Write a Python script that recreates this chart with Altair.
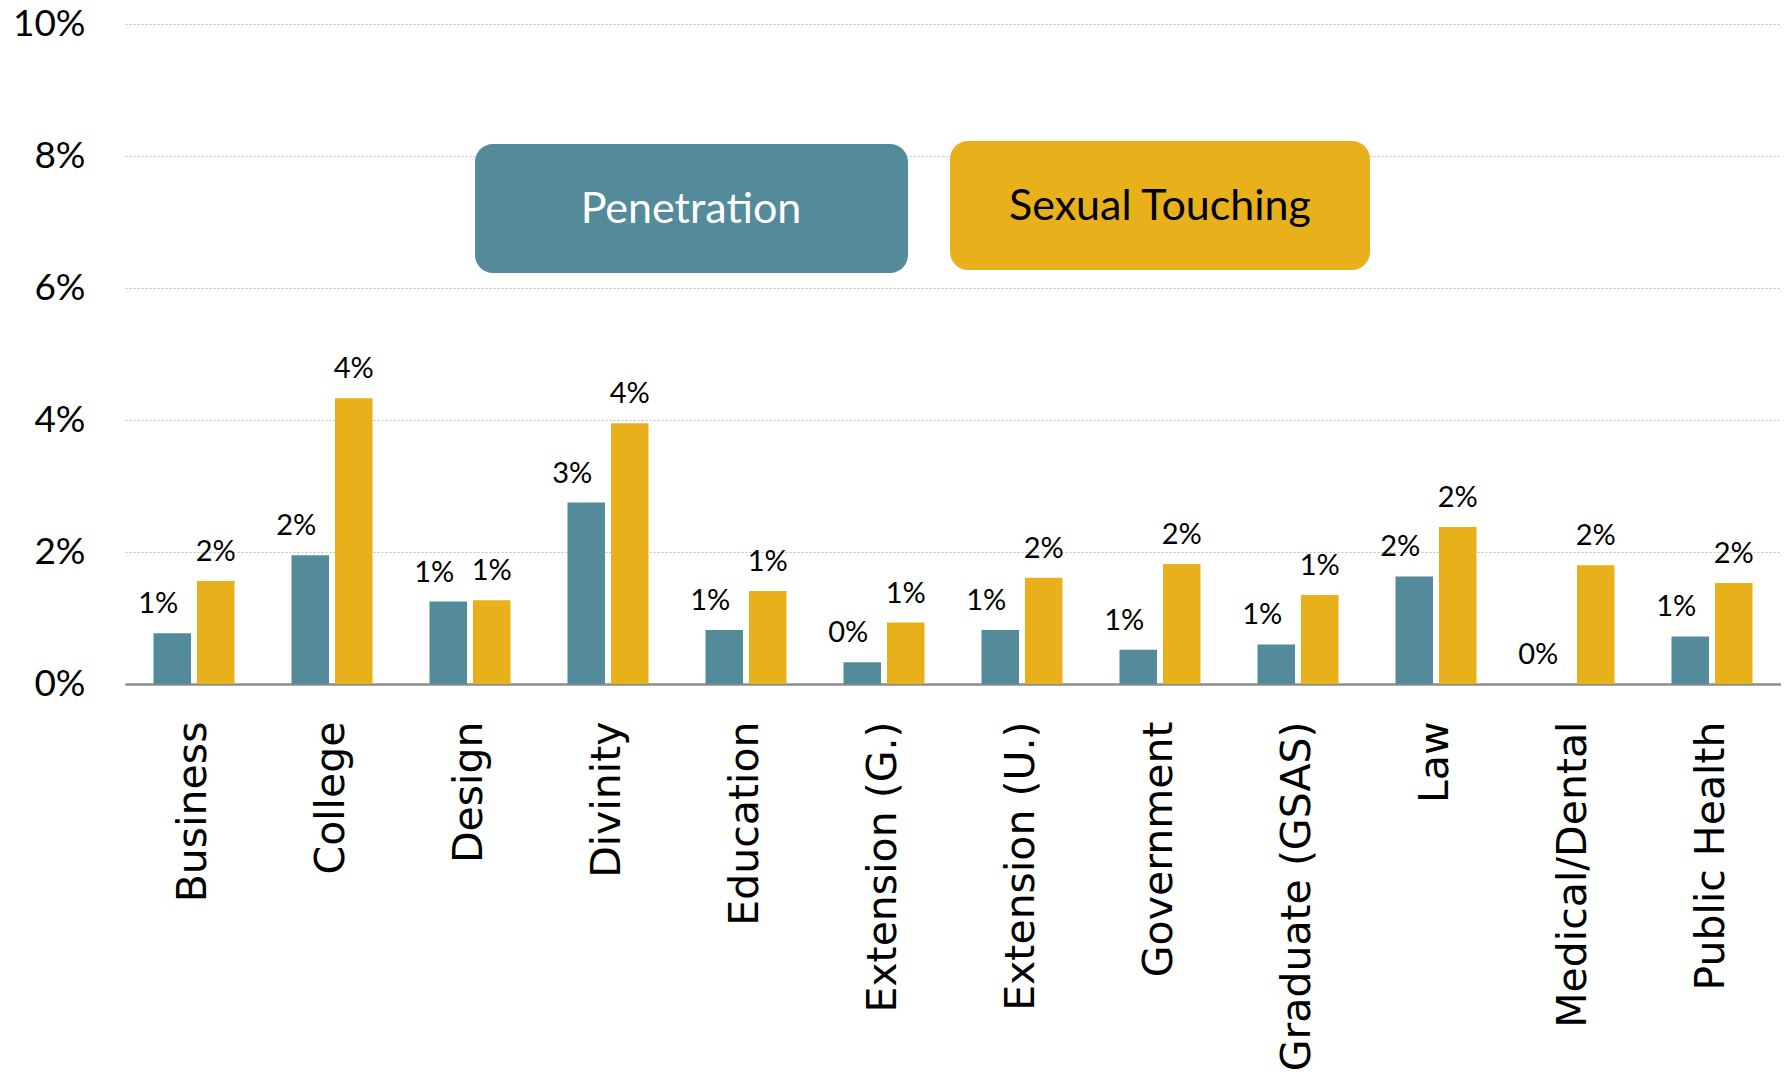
import altair as alt
import pandas as pd

schools = ["Business", "College", "Design", "Divinity", "Education", "Extension (G.)",
           "Extension (U.)", "Government", "Graduate (GSAS)", "Law", "Medical/Dental",
           "Public Health"]
series = ["Penetration", "Sexual Touching"]
colors = ["#538B9B", "#E8B01B"]
penetration = [0.0077, 0.0195, 0.0125, 0.0275, 0.0082, 0.0033, 0.0082, 0.0052, 0.0060, 0.0163, 0.0, 0.0072]
touching = [0.0156, 0.0433, 0.0127, 0.0395, 0.0141, 0.0093, 0.0161, 0.0182, 0.0135, 0.0238, 0.0180, 0.0153]
y_ticks = [0, 0.02, 0.04, 0.06, 0.08, 0.10]

rows = []
for i, s in enumerate(schools):
    rows.append({"school": s, "series": series[0], "value": penetration[i]})
    rows.append({"school": s, "series": series[1], "value": touching[i]})
df = pd.DataFrame(rows)
legend_df = pd.DataFrame({"series": series})

color_scale = alt.Scale(domain=series, range=colors)

X = alt.X("school:N", sort=schools, title=None,
          scale=alt.Scale(paddingInner=0.413, paddingOuter=0.2065),
          axis=alt.Axis(labelAngle=270, labelFont="DejaVu Sans", labelFontSize=41,
                        labelColor="black", labelPadding=37, ticks=False,
                        labelLimit=1000, domainColor="#8C8C8C", domainWidth=2.5,
                        grid=False))
XO = alt.XOffset("series:N", sort=series, scale=alt.Scale(paddingInner=0.138, paddingOuter=0))
Y = alt.Y("value:Q", title=None,
          scale=alt.Scale(domain=[0, 0.10], nice=False, zero=True),
          axis=alt.Axis(values=y_ticks, format=".0%", labelFont="Lato", labelFontSize=37,
                        labelColor="black", labelPadding=40, ticks=False, domain=False,
                        grid=True, gridColor="#BFBFBF", gridDash=[2, 2], gridWidth=1))

base = alt.Chart(df)
bars = base.mark_bar().encode(
    x=X, xOffset=XO, y=Y,
    color=alt.Color("series:N", scale=color_scale, legend=None),
)

lab_p = base.transform_filter(alt.datum.series == series[0]).mark_text(
    font="Lato", fontSize=29, color="black", baseline="alphabetic", dx=-14, dy=-20
).encode(x=X, xOffset=XO, y=Y, text=alt.Text("value:Q", format=".0%"))

lab_s = base.transform_filter(alt.datum.series == series[1]).mark_text(
    font="Lato", fontSize=29, color="black", baseline="alphabetic", dy=-20
).encode(x=X, xOffset=XO, y=Y, text=alt.Text("value:Q", format=".0%"))

leg = alt.Chart(legend_df)
box_p = leg.transform_filter(alt.datum.series == series[0]).mark_rect(cornerRadius=18).encode(
    x=alt.value(350), x2=alt.value(783), y=alt.value(120), y2=alt.value(249),
    color=alt.Color("series:N", scale=color_scale, legend=None))
box_s = leg.transform_filter(alt.datum.series == series[1]).mark_rect(cornerRadius=18).encode(
    x=alt.value(825), x2=alt.value(1245), y=alt.value(117), y2=alt.value(246),
    color=alt.Color("series:N", scale=color_scale, legend=None))
txt_p = leg.transform_filter(alt.datum.series == series[0]).mark_text(
    font="Lato", fontSize=43, color="white", baseline="middle", align="center"
).encode(x=alt.value(566), y=alt.value(186), text="series:N")
txt_s = leg.transform_filter(alt.datum.series == series[1]).mark_text(
    font="Lato", fontSize=43, color="black", baseline="middle", align="center"
).encode(x=alt.value(1035), y=alt.value(183), text="series:N")

chart = alt.layer(bars, lab_p, lab_s, box_p, box_s, txt_p, txt_s).properties(
    width=1656, height=660,
    background="white",
    autosize=alt.AutoSizeParams(type="none"),
    padding={"left": 117, "top": 16, "right": 0, "bottom": 389},
).configure_view(stroke=None)

chart.save("out.html", embed_options={"renderer": "svg", "actions": False})
